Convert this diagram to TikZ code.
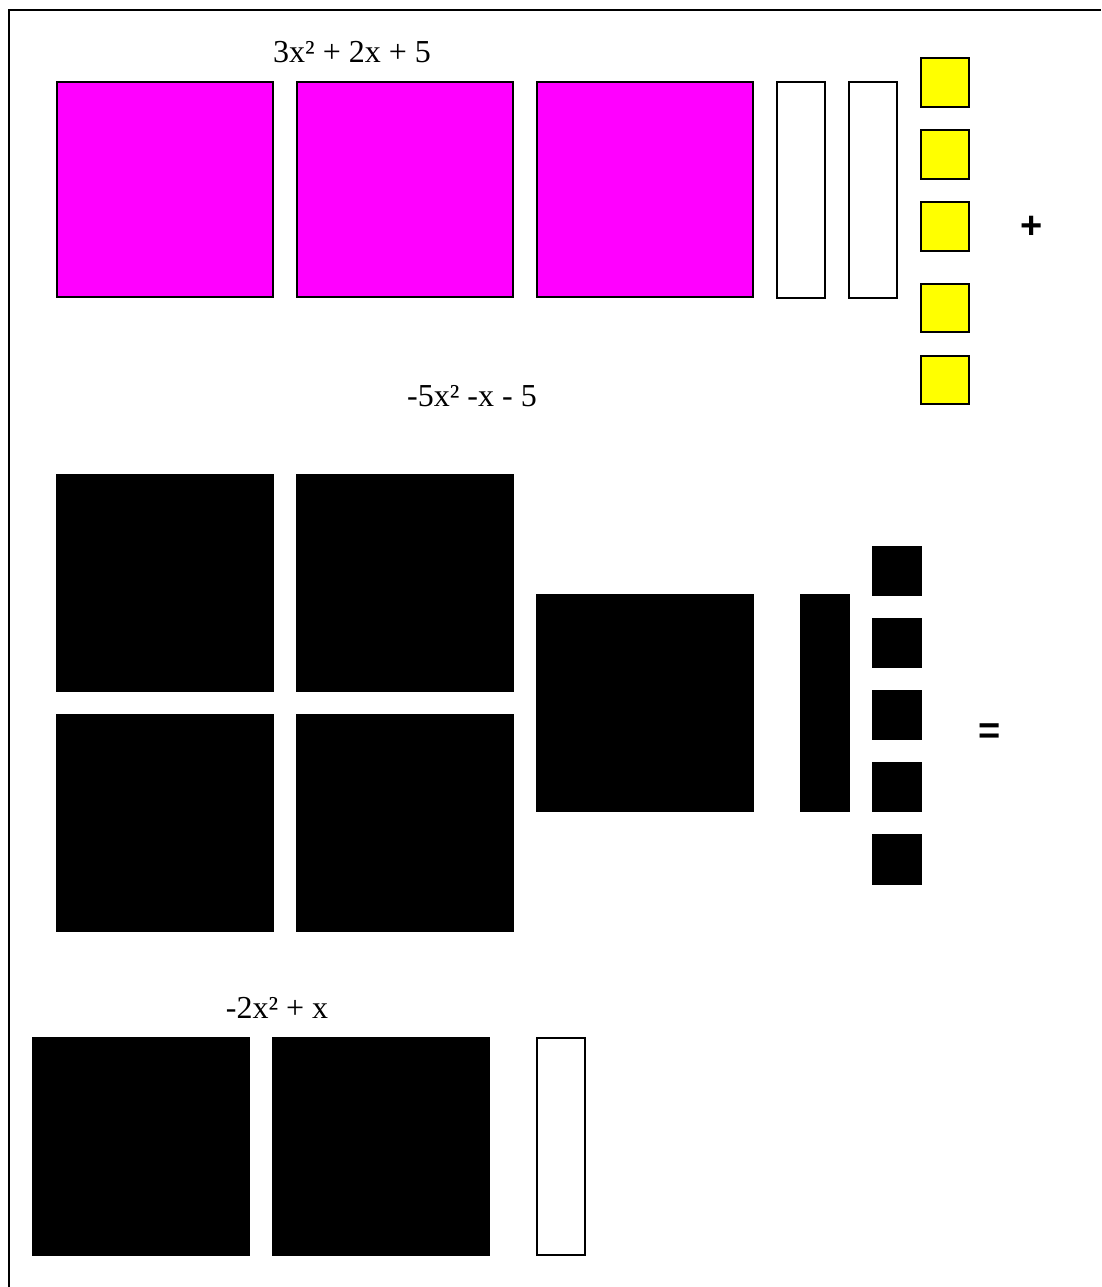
\documentclass[tikz,border=0pt]{standalone}
\usepackage{fontspec}
\setmainfont{Liberation Serif}
\newfontfamily\signfont{Liberation Sans}
\usepackage{tikz}
\usepackage{xcolor}

\definecolor{tilepink}{RGB}{255,0,255}
\definecolor{tileyellow}{RGB}{255,255,0}

\tikzset{
  tile/.style={draw=black, line width=1.4pt},
  label/.style={font=\fontsize{32}{38}\selectfont, anchor=base, inner sep=0pt},
  sign/.style={font=\signfont\bfseries\fontsize{38}{44}\selectfont, anchor=base, inner sep=0pt}
}

\begin{document}
\begin{tikzpicture}[x=1pt,y=-1pt]

\useasboundingbox (0,0) rectangle (1101,1287);

% frame
\draw[line width=1.4pt] (9,1287)--(9,10)--(1101,10);

% first polynomial
\node[label] (topexpr) at (352,63) {3x² + 2x + 5};

\filldraw[tile, fill=tilepink] (57,82) rectangle (273,297);
\filldraw[tile, fill=tilepink] (297,82) rectangle (513,297);
\filldraw[tile, fill=tilepink] (537,82) rectangle (753,297);

\draw[tile] (777,82) rectangle (825,298);
\draw[tile] (849,82) rectangle (897,298);

\filldraw[tile, fill=tileyellow] (921,58) rectangle (969,107);
\filldraw[tile, fill=tileyellow] (921,130) rectangle (969,179);
\filldraw[tile, fill=tileyellow] (921,202) rectangle (969,251);
\filldraw[tile, fill=tileyellow] (921,284) rectangle (969,332);
\filldraw[tile, fill=tileyellow] (921,356) rectangle (969,404);

\node[sign] (plus) at (1032,238) {+};

% second polynomial
\node[label] (midexpr) at (472,406) {-5x² -x - 5};

\filldraw[tile, fill=black] (57,475) rectangle (273,691);
\filldraw[tile, fill=black] (297,475) rectangle (513,691);
\filldraw[tile, fill=black] (57,715) rectangle (273,931);
\filldraw[tile, fill=black] (297,715) rectangle (513,931);

\filldraw[tile, fill=black] (537,595) rectangle (753,811);
\filldraw[tile, fill=black] (801,595) rectangle (849,811);

\filldraw[tile, fill=black] (873,547) rectangle (921,595);
\filldraw[tile, fill=black] (873,619) rectangle (921,667);
\filldraw[tile, fill=black] (873,691) rectangle (921,739);
\filldraw[tile, fill=black] (873,763) rectangle (921,811);
\filldraw[tile, fill=black] (873,835) rectangle (921,884);

\node[sign] (equals) at (990,743) {=};

% result
\node[label] (botexpr) at (277,1018) {-2x² + x};

\filldraw[tile, fill=black] (33,1038) rectangle (249,1255);
\filldraw[tile, fill=black] (273,1038) rectangle (489,1255);
\draw[tile] (537,1038) rectangle (585,1255);

\end{tikzpicture}
\end{document}
